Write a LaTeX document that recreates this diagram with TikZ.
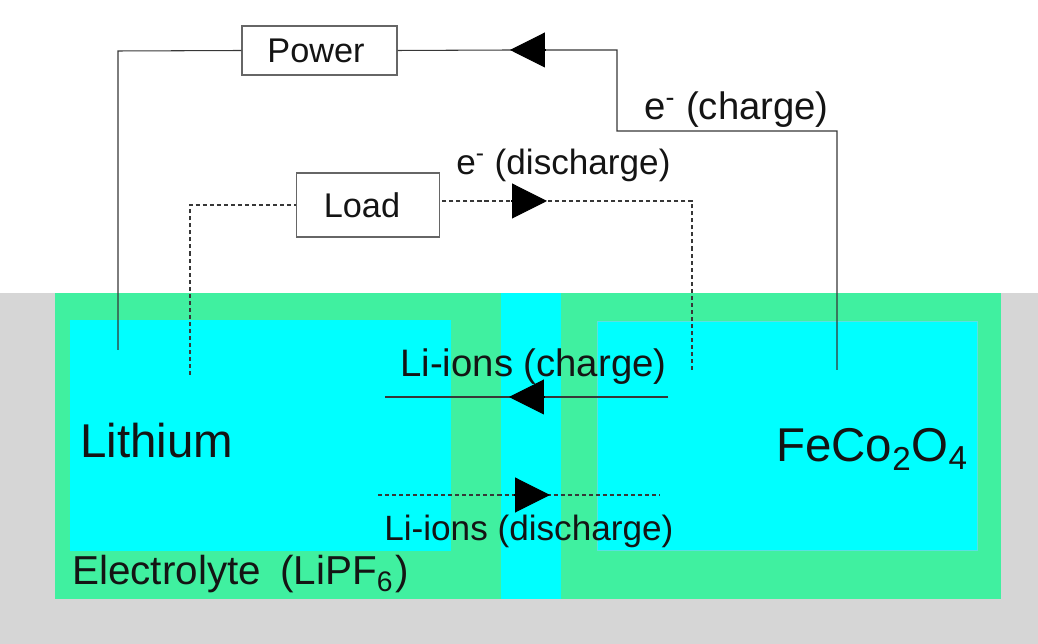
\documentclass[tikz,border=0pt]{standalone}
\usepackage{xcolor}
\usepackage{fontspec}
\setmainfont{Liberation Sans}
\usetikzlibrary{arrows.meta, positioning}
\definecolor{mygrey}{RGB}{214,214,214}
\definecolor{mygreen}{RGB}{64,240,160}
\definecolor{mycyan}{RGB}{0,255,255}
\definecolor{myedge}{RGB}{90,225,225}
\definecolor{mydark}{RGB}{20,20,20}
\tikzset{
  panel/.style={rectangle, anchor=north west, inner sep=0pt, draw=none},
  devbox/.style={rectangle, draw=mydark!65, fill=white, inner sep=0pt, line width=0.6pt,
    text=mydark, font=\fontsize{19.5}{24}\selectfont},
  chargelabel/.style={inner sep=0pt, anchor=base west, text=mydark, font=\fontsize{21.8}{24}\selectfont},
  dislabel/.style={inner sep=0pt, anchor=base west, text=mydark, font=\fontsize{20}{24}\selectfont},
  biglabel/.style={inner sep=0pt, anchor=base west, text=mydark, font=\fontsize{27}{32}\selectfont},
  wire/.style={line width=0.6pt, color=mydark!85},
  dashwire/.style={line width=0.6pt, color=mydark!85, dash pattern=on 2.3pt off 1.7pt},
  bigtip/.style={-{Triangle[length=0.7cm, width=0.7cm]}, line width=0.6pt, color=black}
}
\begin{document}
\begin{tikzpicture}[x=0.02cm, y=-0.02cm]
  \useasboundingbox (0,0) rectangle (1038,644);

  % Cell panels
  \node[panel, fill=mygrey, minimum width=20.76cm, minimum height=7.02cm] (bath) at (0,293) {};
  \node[panel, fill=mygreen, minimum width=18.92cm, minimum height=6.12cm] (electrolyte) at (54.5,293) {};
  \node[panel, fill=mycyan, minimum width=1.2cm, minimum height=6.12cm] (separator) at (500.5,293) {};
  \node[panel, fill=mycyan, minimum width=7.62cm, minimum height=4.62cm] (anode) at (70,320) {};
  \node[panel, fill=mycyan, draw=myedge, line width=0.5pt, minimum width=7.6cm, minimum height=4.58cm] (cathode) at (597,321) {};

  % Boxes
  \node[devbox, minimum width=3.1cm, minimum height=0.98cm] (power) at (319.5,50.5) {Power\hspace*{0.14cm}};
  \node[devbox, minimum width=2.87cm, minimum height=1.28cm] (load) at (368,205) {Load\hspace*{0.24cm}};

  % Wire ends
  \coordinate (lifull) at (118,350);
  \coordinate (licorner) at (118,51);
  \coordinate (fefull) at (837,370);
  \coordinate (fecorner) at (837,131);
  \coordinate (stepa) at (617,131);
  \coordinate (stepb) at (617,50);
  \coordinate (basea) at (545,50);
  \coordinate (tipa) at (510,50);
  \coordinate (lidash) at (190,375);
  \coordinate (lidashup) at (190,205);
  \coordinate (fedash) at (692,370);
  \coordinate (fedashup) at (692,201);
  \coordinate (basec) at (511,201);
  \coordinate (tipc) at (547,201);
  \coordinate (ionr) at (668,397);
  \coordinate (ionl) at (385,397);
  \coordinate (based) at (544,397);
  \coordinate (tipd) at (509,397);
  \coordinate (dionl) at (378,495);
  \coordinate (dionr) at (660,495);
  \coordinate (basee) at (514,495);
  \coordinate (tipe) at (550,495);

  % Charge circuit
  \draw[wire] (lifull) -- (licorner) -- (power.west);
  \draw[wire] (fefull) -- (fecorner) -- (stepa) -- (stepb) -- (tipa) -- (power.east);
  \draw[bigtip] (basea) -- (tipa);

  % Discharge circuit
  \draw[dashwire] (lidash) -- (lidashup) -- (load.west |- lidashup);
  \draw[dashwire] (fedash) -- (fedashup) -- (load.east |- fedashup);
  \draw[bigtip] (basec) -- (tipc);

  % Ion flow
  \draw[wire] (ionr) -- (ionl);
  \draw[bigtip] (based) -- (tipd);
  \draw[dashwire] (dionl) -- (dionr);
  \draw[bigtip] (basee) -- (tipe);

  % Labels
  \node[chargelabel] (echarge) at (644,120) {e\textsuperscript{-} (charge)};
  \node[dislabel] (edis) at (456,175) {e\textsuperscript{-} (discharge)};
  \node[chargelabel] (ioncharge) at (400,377) {Li-ions (charge)};
  \node[dislabel] (iondis) at (384,541) {Li-ions (discharge)};
  \node[biglabel] (lithium) at (80,458) {Lithium};
  \node[biglabel] (feco) at (776,462) {FeCo\textsubscript{2}O\textsubscript{4}};
  \node[inner sep=0pt, anchor=base west, text=mydark, font=\fontsize{23}{26}\selectfont] (elec) at (72,585) {Electrolyte\hspace*{0.16cm} (LiPF\textsubscript{6}\hspace{0.05cm})};
\end{tikzpicture}
\end{document}
